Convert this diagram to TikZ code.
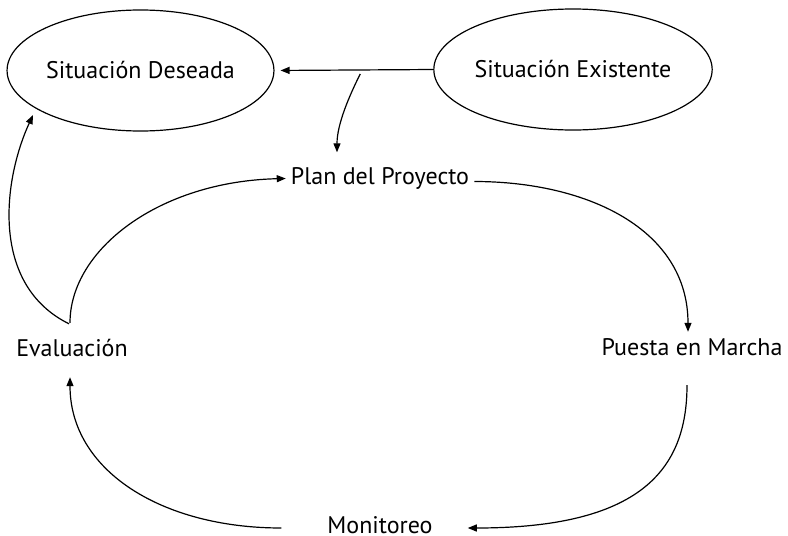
\documentclass[tikz,border=0pt]{standalone}
\usepackage{fontspec}
\setmainfont{PT Sans}
\usetikzlibrary{shapes.geometric,arrows.meta,calc}
\tikzset{
  oval/.style={ellipse, draw, line width=1.2pt, minimum width=265pt, minimum height=121pt, inner sep=0pt, font=\fontsize{24}{28}\selectfont},
  lbl/.style={inner xsep=5pt, inner ysep=0pt, text height=16pt, text depth=0pt, font=\fontsize{24}{28}\selectfont},
  arr/.style={line width=1.2pt, -{Triangle[length=9pt,width=7pt]}}
}
\begin{document}
\begin{tikzpicture}[x=1pt,y=-1pt]
\useasboundingbox (0,0) rectangle (788,536);
\node[oval] (des) at (140.5,70.5) {Situación Deseada};
\node[oval] (exist) at (573,69.5) {Situación Existente};
\node[lbl] (plan) at (380,176) {Plan del Proyecto};
\node[lbl] (eval) at (72,348) {Evaluación};
\node[lbl] (put) at (692,347.5) {Puesta en Marcha};
\node[lbl] (mon) at (380,525) {Monitoreo};
\coordinate (br) at ($(des.east)!0.54!(exist.west)$);

\draw[arr, shorten >=6pt] (exist.west) -- (des.east);
\draw[arr] ([yshift=-4pt]br) .. controls +(-11,22) and +(0,-28) .. ([xshift=-43pt,yshift=15.5pt]plan.north);
\draw[arr] ([xshift=-3pt,yshift=16pt]eval.north) .. controls +(-79,-39) and +(-30,65) .. ([xshift=-107.5pt,yshift=-44.5pt]des.center);
\draw[arr] ([xshift=-2pt,yshift=17pt]eval.north) .. controls +(0,-73) and +(-127,3) .. ([yshift=-2.5pt]plan.west);
\draw[arr] ([yshift=-5.5pt]plan.east) .. controls +(114,0) and +(0,-102) .. ([xshift=-4pt,yshift=7.5pt]put.north);
\draw[arr] ([xshift=-5pt,yshift=-29.5pt]put.south) .. controls +(0,85) and +(172,0) .. ([xshift=30pt,yshift=-3pt]mon.east);
\draw[arr] ([xshift=-41pt,yshift=-3pt]mon.west) .. controls +(-120,0) and +(0,93) .. ([xshift=-2pt,yshift=-21pt]eval.south);
\end{tikzpicture}
\end{document}
